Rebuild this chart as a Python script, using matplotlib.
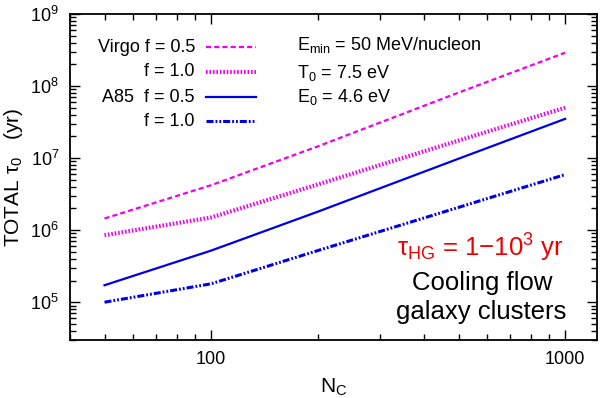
import numpy as np
import matplotlib
matplotlib.use("Agg")
import matplotlib.pyplot as plt
from matplotlib.ticker import LogLocator, NullFormatter

plt.rcParams['font.family'] = ['Liberation Sans', 'DejaVu Sans']
plt.rcParams['mathtext.fontset'] = 'custom'
plt.rcParams['mathtext.rm'] = 'Liberation Sans'
plt.rcParams['mathtext.it'] = 'Liberation Sans:italic'

# cluster number N_C and total time tau_0 (yr)
n_c = [50, 100, 200, 500, 1000]
virgo_f05 = [1.45e6, 4.2e6, 1.45e7, 8.1e7, 2.9e8]
virgo_f10 = [8.5e5, 1.5e6, 4.3e6, 1.75e7, 5.0e7]
a85_f05 = [1.72e5, 5.2e5, 1.8e6, 9.8e6, 3.5e7]
a85_f10 = [1.0e5, 1.8e5, 5.2e5, 2.07e6, 5.9e6]

labels = ["Virgo f = 0.5", "f = 1.0", "A85  f = 0.5", "f = 1.0"]

magenta = '#f000f0'
blue = '#0000e6'

fig = plt.figure(figsize=(6.0, 3.98), dpi=100)
ax = fig.add_axes([0.117, 0.146, 0.878, 0.819])

styles = [
    dict(color=magenta, lw=1.6, dashes=(2.3, 1.4)),
    dict(color=magenta, lw=3.0, dashes=(0.38, 0.45)),
    dict(color=blue, lw=1.6),
    dict(color=blue, lw=2.2, dashes=(2.3, 0.65, 0.6, 0.65, 0.6, 0.65)),
]
series = [virgo_f05, virgo_f10, a85_f05, a85_f10]

for ys, st in zip(series, styles):
    ax.plot(n_c, ys, **st)

ax.set_xscale('log')
ax.set_yscale('log')
ax.set_xlim(40, 1230)
ax.set_ylim(3e4, 1e9)

ax.xaxis.set_minor_locator(LogLocator(base=10, subs=np.arange(2, 10), numticks=20))
ax.xaxis.set_minor_formatter(NullFormatter())
ax.yaxis.set_minor_locator(LogLocator(base=10, subs=np.arange(2, 10), numticks=20))
ax.set_xticks([100, 1000])
ax.set_xticklabels(['100', '1000'])
ax.tick_params(which='both', direction='in', top=True, right=True, width=1.0)
ax.tick_params(which='major', length=7, labelsize=13, pad=8)
ax.tick_params(which='minor', length=4)
for s in ax.spines.values():
    s.set_linewidth(1.3)

ax.set_xlabel(r"N$_\mathregular{C}$", fontsize=15, labelpad=6)
ax.set_ylabel(r"TOTAL $\mathregular{\tau_0}$   (yr)", fontsize=15, labelpad=4)

# legend written by hand, like the original
row_y = [47, 72, 97, 121]
for lab, st, yp in zip(labels, styles, row_y):
    yfig = 1 - yp / 398
    fig.text(195 / 600, yfig, lab, ha='right', va='center', fontsize=13)
    fig.add_artist(plt.Line2D([206 / 600, 256 / 600], [yfig, yfig],
                              transform=fig.transFigure, **st))

fig.text(297 / 600, 1 - 45 / 398, r"E$_\mathregular{min}$ = 50 MeV/nucleon",
         ha='left', va='center', fontsize=13)
fig.text(297 / 600, 1 - 73 / 398, r"T$_\mathregular{0}$ = 7.5 eV",
         ha='left', va='center', fontsize=13)
fig.text(297 / 600, 1 - 97 / 398, r"E$_\mathregular{0}$ = 4.6 eV",
         ha='left', va='center', fontsize=13)

fig.text(480 / 600, 1 - 248 / 398,
         r"$\mathregular{\tau_{HG}}$ = 1$-$10$^\mathregular{3}$ yr",
         ha='center', va='center', fontsize=18.5, color='#ee0000')
fig.text(482 / 600, 1 - 283 / 398, "Cooling flow", ha='center', va='center',
         fontsize=18.5)
fig.text(481 / 600, 1 - 312 / 398, "galaxy clusters", ha='center',
         va='center', fontsize=18.5)

fig.savefig("out.png", dpi=100)
